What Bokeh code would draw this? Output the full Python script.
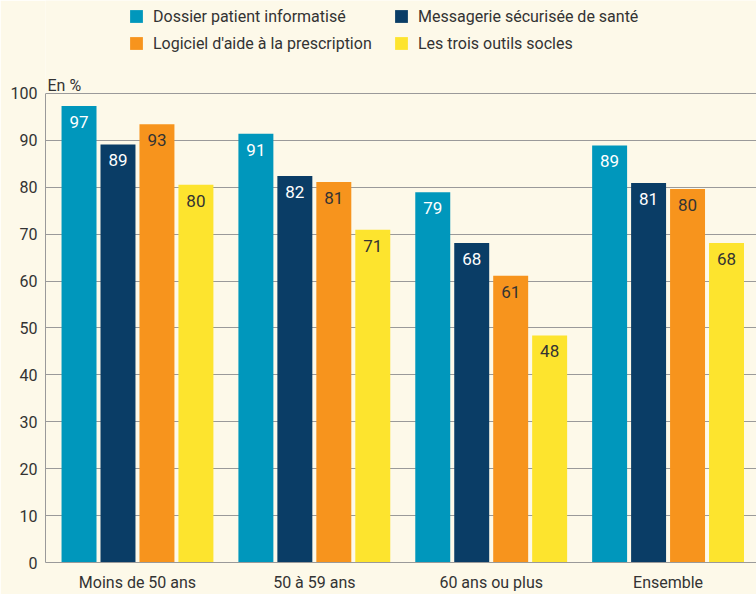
from bokeh.plotting import figure
from bokeh.models import ColumnDataSource, Range1d, FixedTicker, Legend, LegendItem, Label
from bokeh.core.properties import value
from bokeh.embed import file_html
from bokeh.resources import INLINE

# ---- data ----
groups = ["Moins de 50 ans", "50 à 59 ans", "60 ans ou plus", "Ensemble"]
series_names = ["Dossier patient informatisé", "Messagerie sécurisée de santé",
                "Logiciel d'aide à la prescription", "Les trois outils socles"]
dossier = [97.3, 91.4, 78.9, 88.9]
messagerie = [89.1, 82.4, 68.1, 80.9]
logiciel = [93.4, 81.1, 61.1, 79.6]
trois = [80.5, 70.9, 48.4, 68.1]
dossier_lab = [97, 91, 79, 89]
messagerie_lab = [89, 82, 68, 81]
logiciel_lab = [93, 81, 61, 80]
trois_lab = [80, 71, 48, 68]
y_ticks = [0, 10, 20, 30, 40, 50, 60, 70, 80, 90, 100]
unit_label = "En %"

# ---- style ----
FONT = "Roboto"
FS = "16px"
BG = "#FDF9E9"
TXT = "#333333"
GRID = "#9a9a9a"
colors = ["#0097BC", "#0A3D66", "#F7941D", "#FDE42E"]
label_colors = ["#FFFFFF", "#FFFFFF", TXT, TXT]

# frame: 0 -> y=563, 100 -> y=93 (4.7 px per unit); frame extends to figure top
p = figure(width=756, height=594, output_backend="svg", toolbar_location=None,
           x_range=Range1d(-0.52, 3.50), y_range=Range1d(0, 119.79),
           min_border_left=45, min_border_right=0, min_border_top=0, min_border_bottom=31,
           background_fill_color=BG, border_fill_color=BG, outline_line_color=None)

pitch = 0.2203
bw = 0.1977
series_vals = [dossier, messagerie, logiciel, trois]
series_labs = [dossier_lab, messagerie_lab, logiciel_lab, trois_lab]
renderers = []
for k in range(4):
    xs = [i + (k - 1.5) * pitch for i in range(len(groups))]
    src = ColumnDataSource(dict(x=xs, top=series_vals[k],
                                lab=[str(v) for v in series_labs[k]]))
    r = p.vbar(x="x", top="top", width=bw, source=src,
               fill_color=colors[k], line_color=None)
    renderers.append(r)
    p.text(x="x", y="top", text="lab", source=src, text_align="center",
           text_baseline="top", y_offset=10, text_font=value(FONT),
           text_font_size="17px", text_color=label_colors[k])

# grid
p.xgrid.grid_line_color = None
p.ygrid.grid_line_color = GRID
p.ygrid.grid_line_width = 1
p.ygrid.ticker = FixedTicker(ticks=y_ticks)

# y axis
p.yaxis.ticker = FixedTicker(ticks=y_ticks)
p.yaxis.bounds = (0, 100)
p.yaxis.axis_line_color = GRID
p.yaxis.major_tick_line_color = None
p.yaxis.minor_tick_line_color = None
p.yaxis.major_tick_out = 0
p.yaxis.major_tick_in = 0
p.yaxis.minor_tick_out = 0
p.yaxis.major_label_standoff = 8
p.yaxis.major_label_text_font = FONT
p.yaxis.major_label_text_font_size = FS
p.yaxis.major_label_text_color = TXT

# x axis
p.xaxis.ticker = FixedTicker(ticks=list(range(len(groups))))
p.xaxis.major_label_overrides = {i: g for i, g in enumerate(groups)}
p.xaxis.axis_line_color = GRID
p.xaxis.major_tick_line_color = None
p.xaxis.minor_tick_line_color = None
p.xaxis.major_tick_out = 0
p.xaxis.major_tick_in = 0
p.xaxis.minor_tick_out = 0
p.xaxis.major_label_standoff = 10
p.xaxis.major_label_text_font = FONT
p.xaxis.major_label_text_font_size = FS
p.xaxis.major_label_text_color = TXT

# unit label
p.add_layout(Label(x=-0.52, y=100, x_offset=2, y_offset=8, text=unit_label,
                   text_font=FONT, text_font_size=FS, text_color=TXT,
                   text_baseline="alphabetic"))

# legends (two columns)
def make_legend(idx, loc):
    return Legend(items=[LegendItem(label=series_names[i], renderers=[renderers[i]]) for i in idx],
                  location=loc, orientation="vertical",
                  glyph_width=16, glyph_height=16, label_height=20, label_standoff=9,
                  spacing=7, padding=0, margin=0, border_line_color=None,
                  background_fill_alpha=0, label_text_font=FONT,
                  label_text_font_size=FS, label_text_color=TXT)

p.add_layout(make_legend([0, 2], (83, 509)))
p.add_layout(make_legend([1, 3], (348, 509)))

open("out.html", "w").write(file_html(p, INLINE))
